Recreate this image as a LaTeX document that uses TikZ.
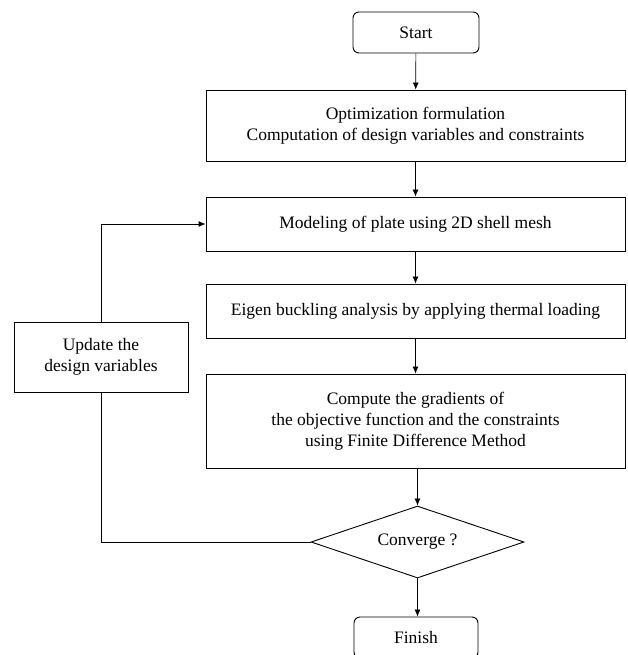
\documentclass[tikz,border=0pt]{standalone}
\usepackage{fontspec}
\setmainfont{Liberation Serif}
\usetikzlibrary{shapes.geometric,arrows.meta}
\begin{document}
\begin{tikzpicture}[x=1pt,y=-1pt,
  every node/.style={font=\fontsize{17.5}{21}\selectfont, align=center, inner sep=0pt},
  procbox/.style={draw, line width=0.9pt, minimum width=419pt},
  termbox/.style={draw, line width=0.9pt, rounded corners=6pt},
  decbox/.style={draw, line width=0.9pt, shape=diamond, aspect=2.96, minimum width=213pt, minimum height=72pt},
  conn/.style={line width=0.7pt, -{Latex[length=7pt,width=6pt]}},
  plain/.style={line width=0.9pt}]
\useasboundingbox (0,0) rectangle (628,655);
\node[termbox, minimum width=126pt, minimum height=41pt] (start) at (416,32.5) {Start};
\node[procbox, minimum height=71pt] (opt) at (415.5,125.5) {Optimization formulation\\Computation of design variables and constraints};
\node[procbox, minimum height=54pt] (model) at (415.5,224) {Modeling of plate using 2D shell mesh};
\node[procbox, minimum height=54pt] (eigen) at (415.5,311) {Eigen buckling analysis by applying thermal loading};
\node[procbox, minimum height=94pt] (grad) at (415.5,421) {Compute the gradients of\\the objective function and the constraints\\using Finite Difference Method};
\node[decbox] (conv) at (417.5,542) {Converge ?};
\node[termbox, minimum width=124pt, minimum height=41pt] (finish) at (416,637.5) {Finish};
\node[draw, line width=0.9pt, minimum width=174pt, minimum height=70pt] (upd) at (101,357) {Update the\\design variables};
\draw[conn] (start) -- (opt);
\draw[conn] (opt) -- (model);
\draw[conn] (model) -- (eigen);
\draw[conn] (eigen) -- (grad);
\draw[conn] (grad.south -| conv.north) -- (conv.north);
\draw[conn] (conv.south) -- (finish.north -| conv.south);
\draw[plain] (conv.west) -| (upd.south);
\draw[plain, -{Latex[length=7pt,width=6pt]}] (upd.north) |- (model.west);
\end{tikzpicture}
\end{document}
